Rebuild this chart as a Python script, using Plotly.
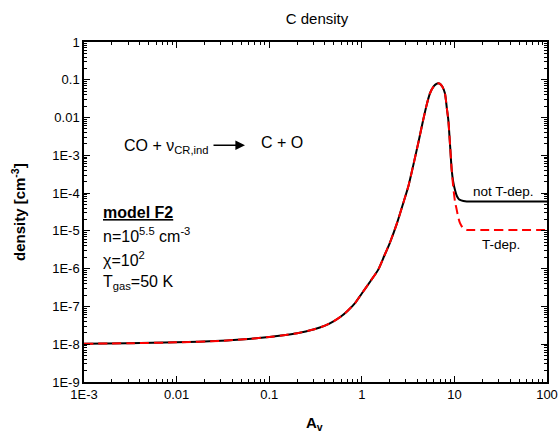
import plotly.graph_objects as go

# ---- data ----
av = [0.001, 0.003, 0.01, 0.03, 0.06, 0.1, 0.15, 0.2, 0.3, 0.4, 0.5, 0.6, 0.7, 0.85,
      1.0, 1.25, 1.5, 1.75, 2.0, 2.4, 2.8, 3.2, 3.6, 4.1, 4.6, 5.0, 5.45, 6.0, 6.4,
      6.7, 7.0, 7.4, 7.9, 8.3, 8.6, 9.0, 9.35, 9.7, 10.15, 10.6, 11.0, 11.5, 12.5,
      13.6, 14.7, 20, 50, 100]

c_not_tdep = [1.03e-8, 1.06e-8, 1.12e-8, 1.23e-8, 1.38e-8, 1.55e-8, 1.75e-8, 1.95e-8,
              2.45e-8, 3.1e-8, 4.1e-8, 5.5e-8, 7.6e-8, 1.25e-7, 2.2e-7, 4.8e-7, 9.3e-7,
              2.2e-6, 4.7e-6, 1.6e-5, 5.4e-5, 1.6e-4, 5.5e-4, 2.3e-3, 8.6e-3, 2.1e-2,
              4.4e-2, 6.8e-2, 7.8e-2, 8.1e-2, 7.8e-2, 6.6e-2, 4.4e-2, 1.7e-2, 8.6e-3,
              1.7e-3, 4.1e-4, 2.0e-4, 1.2e-4, 8.5e-5, 7.3e-5, 6.6e-5, 6.2e-5, 6.0e-5,
              5.96e-5, 5.96e-5, 5.96e-5, 5.96e-5]

c_tdep = [1.03e-8, 1.06e-8, 1.12e-8, 1.23e-8, 1.38e-8, 1.55e-8, 1.75e-8, 1.95e-8,
          2.45e-8, 3.1e-8, 4.1e-8, 5.5e-8, 7.6e-8, 1.25e-7, 2.2e-7, 4.8e-7, 9.3e-7,
          2.2e-6, 4.7e-6, 1.6e-5, 5.4e-5, 1.6e-4, 5.5e-4, 2.3e-3, 8.6e-3, 2.1e-2,
          4.4e-2, 6.8e-2, 7.8e-2, 8.1e-2, 7.8e-2, 6.6e-2, 4.4e-2, 1.7e-2, 8.6e-3,
          1.7e-3, 4.1e-4, 1.5e-4, 6.0e-5, 3.6e-5, 2.3e-5, 1.6e-5, 1.15e-5, 1.06e-5,
          1.05e-5, 1.05e-5, 1.05e-5, 1.05e-5]

x_tickvals = [1e-3, 1e-2, 1e-1, 1, 10, 100]
x_ticktext = ["1E-3", "0.01", "0.1", "1", "10", "100"]
y_tickvals = [1, 1e-1, 1e-2, 1e-3, 1e-4, 1e-5, 1e-6, 1e-7, 1e-8, 1e-9]
y_ticktext = ["1", "0.1", "0.01", "1E-3", "1E-4", "1E-5", "1E-6", "1E-7", "1E-8", "1E-9"]

x_minor = [m * 10.0 ** e for e in range(-3, 2) for m in range(2, 10)]
y_minor = [m * 10.0 ** e for e in range(-9, 0) for m in range(2, 10)]

FONT = "Liberation Sans, Arial, sans-serif"

fig = go.Figure()
fig.add_trace(go.Scatter(x=av, y=c_not_tdep, mode="lines",
                         line=dict(color="black", width=2, shape="spline", smoothing=0.6),
                         showlegend=False))
fig.add_trace(go.Scatter(x=av, y=c_tdep, mode="lines",
                         line=dict(color="#ff0000", width=2, dash="9px,5px",
                                   shape="spline", smoothing=0.6),
                         showlegend=False))

def axis_common(minor_vals):
    return dict(
        type="log", showgrid=False, zeroline=False, automargin=False,
        showline=True, linecolor="black", linewidth=1.5, mirror="ticks",
        ticks="inside", ticklen=6, tickwidth=1.3, tickcolor="black",
        minor=dict(tickmode="array", tickvals=minor_vals, ticks="inside", ticklen=3,
                   tickwidth=1, tickcolor="black", showgrid=False),
        tickfont=dict(family=FONT, size=13, color="black"),
    )

fig.update_xaxes(range=[-3, 2], tickmode="array", tickvals=x_tickvals, ticktext=x_ticktext,
                 **axis_common(x_minor))
fig.update_yaxes(range=[-9, 0], tickmode="array", tickvals=y_tickvals, ticktext=y_ticktext,
                 **axis_common(y_minor))

fig.update_layout(
    width=559, height=434,
    margin=dict(l=84, r=12, t=42, b=52, autoexpand=False),
    paper_bgcolor="white", plot_bgcolor="white",
    title=dict(text="C density", x=317 / 559, xanchor="center", y=1 - 19 / 434, yanchor="middle",
               font=dict(family=FONT, size=15, color="black"), automargin=False),
    font=dict(family=FONT, color="black"),
)

def ann(text, x, y, size=16, xanchor="left", yanchor="middle", angle=0):
    fig.add_annotation(text=text, x=x, y=y, xref="paper", yref="paper",
                       showarrow=False, xanchor=xanchor, yanchor=yanchor, textangle=angle,
                       font=dict(family=FONT, size=size, color="black"))

# axis titles
ann("<b>density [cm<sup>-3</sup>]</b>", (18 - 84) / 463, 0.5, size=15, xanchor="center", angle=-90)
ann("<b>A<sub>v</sub></b>", (314 - 84) / 463, (382 - 423) / 340, size=15, xanchor="center")

ann("CO + ν<sub>CR,ind</sub>", 0.082, 0.692)
ann("C + O", 0.378, 0.703)
fig.add_annotation(x=(245 - 84) / 463, y=0.6965, ax=-33, ay=0, xref="paper", yref="paper",
                   axref="pixel", ayref="pixel", text="", showarrow=True,
                   arrowhead=2, arrowsize=1.2, arrowwidth=1.6, arrowcolor="black")
ann("not T-dep.", 0.976, 0.559, size=13.5, xanchor="right")
ann("T-dep.", 0.9002, 0.403, size=13.5, xanchor="center")
ann("<b><u>model F2</u></b>", 0.036, 0.50)
ann("n=10<sup>5.5</sup> cm<sup>-3</sup>", 0.036, 0.432)
ann("χ=10<sup>2</sup>", 0.036, 0.362)
ann("T<sub>gas</sub>=50 K", 0.036, 0.292)

# remove the browser's default 8px body margin so the 559x434 figure fills the window exactly
fig.write_html("out.html", config={"displayModeBar": False},
               post_script="document.body.style.margin='0';document.body.style.overflow='hidden';")
